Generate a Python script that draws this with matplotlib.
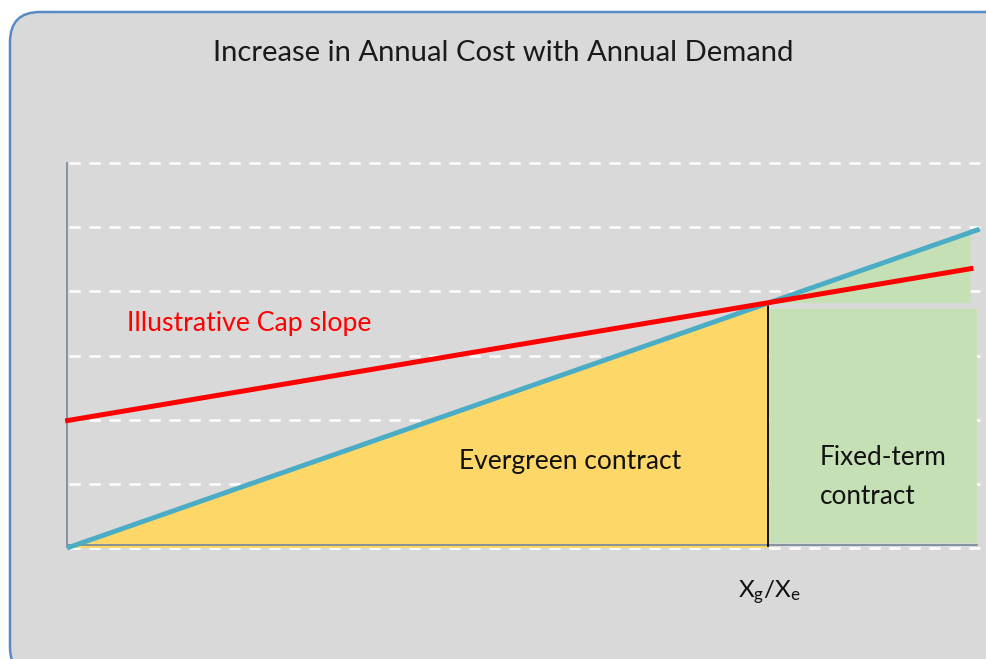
import numpy as np
import matplotlib
matplotlib.use("Agg")
import matplotlib.pyplot as plt
from matplotlib.patches import FancyBboxPatch, Polygon, Rectangle

plt.rcParams['font.family'] = ['Lato', 'DejaVu Sans']
plt.rcParams['mathtext.fontset'] = 'custom'
plt.rcParams['mathtext.rm'] = 'Lato'
plt.rcParams['mathtext.it'] = 'Lato'

# data (arbitrary units)
grid_levels = [0, 1, 2, 3, 4, 5, 6]
demand_x = [0.0, 10.03]            # blue cost line (evergreen)
cost_y = [0.0, 4.97]
cap_x = [-0.02, 9.96]              # red cap line
cap_y = [1.98, 4.36]
x_switch = 7.7                     # X_g / X_e
green_right = 9.93
green_rect = [7.72, 0.08, 10.0, 3.73]   # x0, y0, x1, y1

W, H = 987, 659
fig = plt.figure(figsize=(W / 100, H / 100), dpi=100)

# background rounded box
bg = fig.add_axes([0, 0, 1, 1])
bg.set_xlim(0, W)
bg.set_ylim(H, 0)
bg.axis('off')
box = FancyBboxPatch((10, 12), 1010, 665, boxstyle="round,pad=0,rounding_size=30",
                     fc='#d9d9d9', ec='#5a8ac6', lw=1.8)
bg.add_patch(box)
bg.text(503, 53, 'Increase in Annual Cost with Annual Demand', ha='center', va='center',
        fontsize=21.1, color='#1a1a1a')

# main chart area: x 0..10 -> px 67..977, y 0..6 -> px 548..163
ax = fig.add_axes([67 / W, (H - 548) / H, 910 / W, (548 - 163) / H])
ax.set_xlim(0, 10)
ax.set_ylim(0, 6)
ax.axis('off')
ax.patch.set_alpha(0)

def blue_at(x):
    return cost_y[0] + (cost_y[1] - cost_y[0]) * (x - demand_x[0]) / (demand_x[1] - demand_x[0])

for g in grid_levels:
    ax.plot([0.02, 10.03], [g, g], color='white', lw=1.8, dashes=(4.5, 3.5), clip_on=False, zorder=1)

y_sw = blue_at(x_switch)
# evergreen area
ax.add_patch(Polygon([(0, 0), (x_switch, 0), (x_switch, y_sw)], closed=True,
                     fc='#fdd868', ec='none', zorder=2))
# fixed-term areas
ax.add_patch(Polygon([(x_switch, y_sw), (green_right, blue_at(green_right)), (green_right, y_sw)],
                     closed=True, fc='#c5e0b4', ec='none', zorder=2))
ax.add_patch(Rectangle((green_rect[0], green_rect[1]), green_rect[2] - green_rect[0],
                       green_rect[3] - green_rect[1], fc='#c5e0b4', ec='none', zorder=2))

# axes lines
ax.plot([0, 0], [0.02, 6], color='#7f8c9c', lw=1.3, clip_on=False, zorder=3)
ax.plot([0, 10.0], [0.05, 0.05], color='#7f8c9c', lw=1.3, clip_on=False, zorder=3)
ax.plot([x_switch, x_switch], [0.03, y_sw], color='black', lw=1.3, zorder=4)

ax.plot(demand_x, cost_y, color='#4bacc6', lw=3.5, solid_capstyle='butt', clip_on=False, zorder=5)
ax.plot(cap_x, cap_y, color='#ff0000', lw=3.6, solid_capstyle='butt', clip_on=False, zorder=6)

ax.text((127 - 67) / 91, (548 - 323) / 64.17, 'Illustrative Cap slope', color='#ff0000',
        fontsize=19.2, ha='left', va='center')
ax.text((570 - 67) / 91, (548 - 461) / 64.17, 'Evergreen contract', color='#111111',
        fontsize=19, ha='center', va='center')
ax.text((820 - 67) / 91, (548 - 477) / 64.17, 'Fixed-term\ncontract', color='#111111',
        fontsize=18.8, ha='left', va='center', linespacing=1.66)
ax.text((769 - 67) / 91, (548 - 592) / 64.17, r'X$_\mathrm{g}$/X$_\mathrm{e}$', color='#111111',
        fontsize=17.5, ha='center', va='center')

fig.savefig('out.png', dpi=100)
